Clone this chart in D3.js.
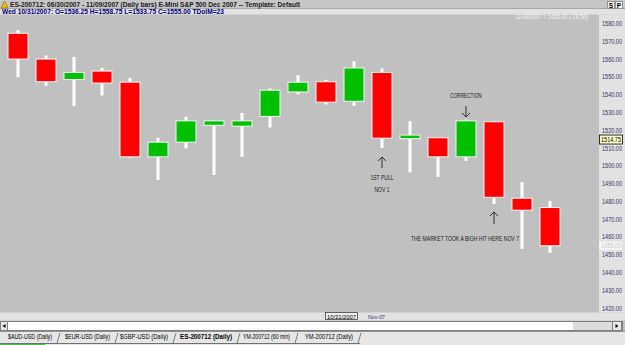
<!DOCTYPE html>
<html><head><meta charset="utf-8">
<script src="https://cdn.jsdelivr.net/npm/d3@7"></script>
<style>html,body{margin:0;padding:0;background:#c0c0c0;overflow:hidden}svg{display:block}text{font-family:"Liberation Sans",Arial,sans-serif}</style>
</head><body>
<script>
const dates = ["10/15","10/16","10/17","10/18","10/19","10/22","10/23","10/24","10/25","10/26","10/29","10/30","10/31","11/01","11/02","11/05","11/06","11/07","11/08","11/09"];
const open  = [1574.5,1560,1548.5,1553.25,1547,1505,1513.25,1522.75,1522.25,1527.75,1541.5,1547.25,1536.25,1552.5,1515.25,1515.75,1505,1524.75,1481.75,1476.5];
const high  = [1576.25,1562,1561.25,1555,1549.5,1515.75,1527.5,1525.25,1529.75,1543.5,1551,1548.25,1558.75,1554.75,1525,1515.75,1526,1525.25,1490.75,1480.25];
const low   = [1549.75,1545,1533.5,1539.5,1504.5,1492,1509.75,1494.75,1505,1521.5,1540.25,1534.5,1533.75,1510,1496.25,1493.75,1502.75,1478.5,1453.25,1451];
const close = [1560,1547.25,1552.5,1546.5,1505,1513.25,1525.25,1525.25,1525.25,1542.5,1547,1535.75,1555,1515.5,1517.25,1505,1525.25,1482.25,1475,1455];
const yTicks = [1420,1430,1440,1450,1460,1470,1480,1490,1500,1510,1520,1530,1540,1550,1560,1570,1580];
const tabs = ["$AUD-USD (Daily)","$EUR-USD (Daily)","$GBP-USD (Daily)","ES-200712 (Daily)","YM-200712 (60 min)","YM-200712 (Daily)"];
const headerTitle = "ES-200712:  06/30/2007 - 11/09/2007  (Daily bars)   E-Mini S&P 500 Dec 2007  --  Template: Default";
const headerBar = "Wed 10/31/2007:  O=1536.25  H=1558.75  L=1533.75  C=1555.00  TDolM=23";
const lastLabel = "11/09/2007 = 1455.00 (-28.50)";
const cursorPrice = 1514.75, lastPrice = 1455;

const W = 625, H = 345;
const svg = d3.select("body").append("svg").attr("width", W).attr("height", H);

const x = d3.scaleBand().domain(dates).range([4, 564]).paddingInner(0.25).paddingOuter(0.125);
const y = d3.scaleLinear().domain([1420, 1580]).range([308, 23.5]);

// backgrounds
svg.append("rect").attr("x",0).attr("y",0).attr("width",W).attr("height",H).attr("fill","#c0c0c0");
svg.append("rect").attr("x",0).attr("y",0).attr("width",W).attr("height",8.5).attr("fill","#c6c6c6");
svg.append("rect").attr("x",0).attr("y",8.5).attr("width",W).attr("height",6).attr("fill","#e2e2e2");
svg.append("line").attr("x1",0).attr("x2",W).attr("y1",8.5).attr("y2",8.5).attr("stroke","#a8a8a8");
svg.append("rect").attr("x",599).attr("y",14.5).attr("width",26).attr("height",298).attr("fill","#e2e2e2");
svg.append("rect").attr("x",0).attr("y",312.5).attr("width",W).attr("height",8).attr("fill","#e2e2e2");

// header
const ic = svg.append("g");
ic.append("path").attr("d","M1,8 L4.5,1 L8,8 Z").attr("fill","#f0c000").attr("stroke","#806000").attr("stroke-width",0.6);
svg.append("text").attr("x",10).attr("y",7).attr("font-size",7).attr("font-weight","bold").attr("fill","#202020")
  .attr("textLength",290).attr("lengthAdjust","spacingAndGlyphs").text(headerTitle);
svg.append("text").attr("x",2).attr("y",14).attr("font-size",6.5).attr("font-weight","bold").attr("fill","#000080")
  .attr("textLength",222).attr("lengthAdjust","spacingAndGlyphs").text(headerBar);
["S","P"].forEach((t,i)=>{
  svg.append("rect").attr("x",607.5+i*8).attr("y",1.5).attr("width",7).attr("height",7).attr("fill","#f4f4f4").attr("stroke","#808080").attr("stroke-width",0.8);
  svg.append("text").attr("x",611+i*8).attr("y",7.5).attr("text-anchor","middle").attr("font-size",6.5).attr("font-weight","bold").attr("fill","#000").text(t);
});
svg.append("text").attr("x",588).attr("y",19).attr("text-anchor","end").attr("font-size",6.5).attr("fill","#f4f4f4")
  .attr("textLength",73).attr("lengthAdjust","spacingAndGlyphs").text(lastLabel);

// y axis labels
const yAxis = d3.axisRight(y).tickValues(yTicks).tickSize(0).tickFormat(d3.format(".2f"));
const ga = svg.append("g").attr("transform","translate(601,0)").call(yAxis);
ga.select(".domain").remove();
ga.selectAll("text").attr("x",1).attr("font-size",6.5).attr("fill","#303060")
  .attr("font-family","'Liberation Sans',Arial,sans-serif").attr("textLength",20).attr("lengthAdjust","spacingAndGlyphs");

// cursor & last price boxes
svg.append("rect").attr("x",599.5).attr("y",y(cursorPrice)-4.5).attr("width",23).attr("height",9).attr("fill","#ffffc8").attr("stroke","#000").attr("stroke-width",0.8);
svg.append("text").attr("x",611).attr("y",y(cursorPrice)+2.5).attr("text-anchor","middle").attr("font-size",6.5).attr("fill","#000")
  .attr("textLength",20).attr("lengthAdjust","spacingAndGlyphs").text(d3.format(".2f")(cursorPrice));
svg.append("rect").attr("x",599).attr("y",y(lastPrice)-4).attr("width",23).attr("height",8).attr("fill","#f6f6f6");
svg.append("text").attr("x",611).attr("y",y(lastPrice)+2.5).attr("text-anchor","middle").attr("font-size",6.5).attr("fill","#c8c8c8")
  .attr("textLength",20).attr("lengthAdjust","spacingAndGlyphs").text(d3.format(".2f")(lastPrice));

// candles
const data = dates.map((d,i)=>({d,o:open[i],h:high[i],l:low[i],c:close[i]}));
const bw = x.bandwidth();
const cg = svg.append("g");
cg.selectAll("rect.wick").data(data).join("rect").attr("class","wick")
  .attr("x",d=>x(d.d)+bw/2-1.5).attr("width",3)
  .attr("y",d=>y(d.h)).attr("height",d=>y(d.l)-y(d.h)).attr("fill","#ffffff");
cg.selectAll("rect.body").data(data).join("rect").attr("class","body")
  .attr("x",d=>x(d.d)+0.5).attr("width",bw-1)
  .attr("y",d=>y(Math.max(d.o,d.c))).attr("height",d=>Math.max(1,y(Math.min(d.o,d.c))-y(Math.max(d.o,d.c))))
  .attr("fill",d=>d.c>=d.o?"#00c000":"#ff0000").attr("stroke","#f4f4f4").attr("stroke-width",1);

// annotations
const ann = svg.append("g").attr("stroke","#303030").attr("stroke-width",1).attr("fill","none");
function arrowUp(cx, tip, bottom){
  ann.append("path").attr("d",`M${cx},${tip} L${cx},${bottom} M${cx-4},${tip+4} L${cx},${tip} L${cx+4},${tip+4}`);
}
function arrowDown(cx, top, tip){
  ann.append("path").attr("d",`M${cx},${top} L${cx},${tip} M${cx-4},${tip-4} L${cx},${tip} L${cx+4},${tip-4}`);
}
const cx = d => x(d)+bw/2;
function label(t, xx, yy, w){
  svg.append("text").attr("x",xx).attr("y",yy).attr("text-anchor","middle").attr("font-size",6.5).attr("fill","#202020")
    .attr("textLength",w).attr("lengthAdjust","spacingAndGlyphs").text(t);
}
arrowUp(cx("11/01"), y(low[13])+9, y(low[13])+20);
label("1ST PULL", cx("11/01"), 179.5, 23);
label("NOV 1", cx("11/01"), 192, 15);
arrowDown(cx("11/06"), y(high[16])-13.5, y(high[16])-2.5);
label("CORRECTION", cx("11/06"), 98, 31.5);
arrowUp(cx("11/07"), y(low[17])+8, y(low[17])+20);
label("THE MARKET TOOK A BIGH HIT HERE NOV 7", 465, 240.5, 108);

// bottom date strip
svg.append("rect").attr("x",325.5).attr("y",312.5).attr("width",32).attr("height",7).attr("fill","#f0f0f0").attr("stroke","#404040").attr("stroke-width",0.8);
svg.append("text").attr("x",341.5).attr("y",318.5).attr("text-anchor","middle").attr("font-size",6).attr("fill","#000")
  .attr("textLength",29).attr("lengthAdjust","spacingAndGlyphs").text("10/31/2007");
svg.append("text").attr("x",368).attr("y",318.5).attr("font-size",6).attr("fill","#303080")
  .attr("textLength",17).attr("lengthAdjust","spacingAndGlyphs").text("Nov-07");

// scrollbar
svg.append("rect").attr("x",0.5).attr("y",321.5).attr("width",622).attr("height",9).attr("fill","#ffffff").attr("stroke","#808080").attr("stroke-width",1);
svg.append("rect").attr("x",573).attr("y",322).attr("width",39).attr("height",8).attr("fill","#dcdcdc");
svg.append("rect").attr("x",0.5).attr("y",321.5).attr("width",7).attr("height",9).attr("fill","#e8e8e8").attr("stroke","#808080");
svg.append("rect").attr("x",612.5).attr("y",321.5).attr("width",9).attr("height",9).attr("fill","#e8e8e8").attr("stroke","#808080");
svg.append("path").attr("d","M5.5,324 L2.5,326 L5.5,328 Z").attr("fill","#000");
svg.append("path").attr("d","M615.5,324 L618.5,326 L615.5,328 Z").attr("fill","#000");

// tabs
svg.append("rect").attr("x",0).attr("y",331).attr("width",W).attr("height",14).attr("fill","#e6e6e6");
svg.append("line").attr("x1",0).attr("x2",W).attr("y1",331.5).attr("y2",331.5).attr("stroke","#909090");
svg.append("line").attr("x1",0).attr("x2",360).attr("y1",343.5).attr("y2",343.5).attr("stroke","#707070");
svg.append("rect").attr("x",0).attr("y",344).attr("width",45).attr("height",1).attr("fill","#40c040");
const tabX = [8,65,120,180,243,305], tabW=[44,45,48,52,47,48];
tabs.forEach((t,i)=>{
  svg.append("text").attr("x",tabX[i]).attr("y",339).attr("font-size",6.5)
    .attr("font-weight",i===3?"bold":"normal").attr("fill","#000")
    .attr("textLength",tabW[i]).attr("lengthAdjust","spacingAndGlyphs").text(t);
  const sx = tabX[i]+tabW[i]+5;
  svg.append("line").attr("x1",sx).attr("y1",343).attr("x2",sx+3).attr("y2",333).attr("stroke","#606060").attr("stroke-width",0.8);
});
</script>
</body></html>
